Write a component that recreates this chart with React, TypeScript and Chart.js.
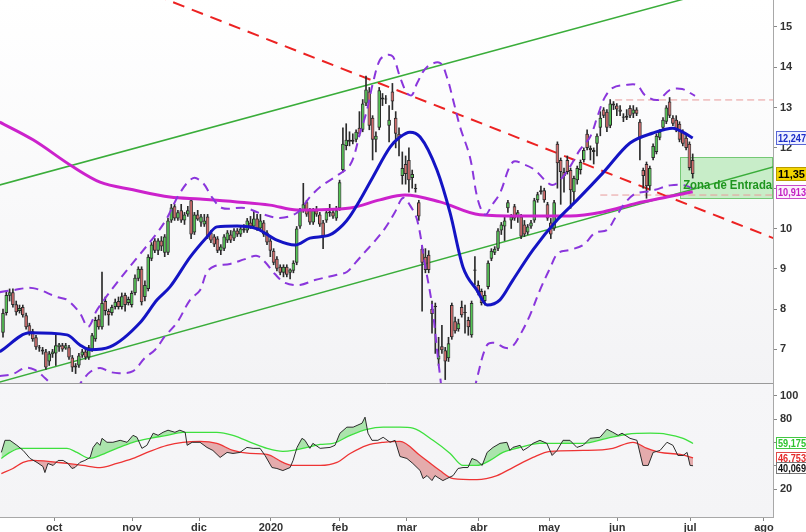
import React, { useEffect, useRef } from "react";
import { Chart, registerables } from "chart.js";
Chart.register(...registerables);

const FONT = "'Liberation Sans', Arial, sans-serif";

// ---- daily candles (trading-day index 0..209) ----
const opens = [7.41,7.9,8.33,8.42,8.12,7.95,8.05,7.85,7.6,7.45,7.3,7.05,7.0,6.95,6.7,6.88,6.9,7.05,7.1,7.02,7.05,6.8,6.6,6.6,6.85,6.95,6.8,7.0,7.25,7.75,7.55,8.2,7.95,7.9,8.05,8.2,8.05,8.35,8.15,8.1,8.4,8.75,9.0,8.3,8.5,9.25,9.7,9.45,9.7,9.4,9.4,10.2,10.55,10.25,10.45,10.2,10.35,10.7,9.9,10.35,10.15,10.1,10.3,9.9,9.8,9.75,9.45,9.5,9.7,9.85,9.75,9.95,9.85,10.0,9.95,10.15,10.05,10.25,10.0,10.15,9.9,9.7,9.45,9.25,9.05,8.9,9.05,8.9,8.95,9.15,10.05,10.45,10.65,10.45,10.15,10.45,10.35,10.15,10.2,10.38,10.4,10.25,10.5,11.45,12.05,12.2,12.15,12.2,12.5,12.45,13.1,13.4,12.75,12.2,12.5,13.2,13.22,12.55,13.4,12.75,12.35,11.3,11.6,11.7,11.25,10.98,10.65,9.5,9.3,9.35,8.0,8.08,6.75,7.08,6.98,6.78,8.1,7.7,7.5,8.05,7.9,7.73,7.35,8.95,8.6,8.45,8.2,8.55,9.25,9.4,9.5,9.95,10.05,10.5,10.2,10.55,10.3,10.3,10.1,9.9,10.05,10.2,10.7,10.9,10.95,10.6,10.15,10.0,12.1,11.7,11.4,11.7,11.45,10.9,11.2,11.45,11.7,12.35,12.0,11.95,12.1,12.5,12.95,12.9,12.55,13.1,13.05,12.95,12.78,12.75,12.99,12.85,12.95,12.65,11.45,11.6,11.05,11.75,11.9,12.25,12.5,12.65,13.15,12.75,12.7,12.6,12.4,12.25,12.1,11.7];
const highs = [8.0,8.45,8.5,8.5,8.2,8.1,8.1,7.9,7.65,7.5,7.35,7.1,7.05,7.0,6.95,7.0,7.35,7.15,7.15,7.15,7.1,6.85,6.65,6.9,7.0,7.0,7.1,7.4,7.8,7.85,8.92,8.3,8.0,8.1,8.25,8.3,8.4,8.4,8.3,8.45,8.85,9.05,9.05,8.7,9.35,9.65,9.75,9.75,9.8,9.85,10.25,10.6,10.6,10.45,10.6,10.4,10.55,10.75,10.4,10.45,10.35,10.35,10.35,9.95,9.85,9.8,9.6,9.85,9.95,9.95,10.0,10.0,10.05,10.1,10.25,10.3,10.45,10.35,10.35,10.2,9.95,9.75,9.5,9.3,9.1,9.1,9.1,9.0,9.2,10.05,10.5,11.12,10.7,10.5,10.5,10.55,10.4,10.2,10.45,10.6,10.5,10.55,11.2,12.5,12.6,12.4,12.35,12.45,12.9,13.2,13.78,13.5,12.8,12.4,13.5,13.35,13.3,13.05,13.6,12.9,12.5,11.9,11.8,12.0,11.45,11.1,10.7,9.55,9.5,9.45,8.2,8.15,7.3,7.6,7.05,7.3,8.15,7.8,7.75,8.2,8.1,7.8,8.2,9.3,8.7,8.5,8.45,9.2,9.5,9.55,10.0,10.15,10.3,10.7,10.35,10.6,10.45,10.35,10.2,10.1,10.2,10.75,10.9,11.05,11.0,10.65,10.25,10.7,12.15,11.75,11.5,11.8,11.5,11.3,11.55,11.7,12.0,12.45,12.05,12.0,12.35,12.9,13.0,12.95,13.2,13.15,13.1,13.05,12.85,12.95,13.05,13.05,13.0,12.7,11.5,11.65,11.55,12.1,12.35,12.45,12.75,13.05,13.25,12.8,12.8,12.65,12.45,12.35,12.15,11.85];
const lows = [7.3,7.85,8.2,8.05,7.85,7.9,7.8,7.5,7.35,7.2,7.0,6.95,6.88,6.5,6.6,6.8,6.6,6.95,6.95,7.0,6.75,6.45,6.4,6.55,6.8,6.75,6.75,6.95,7.2,7.5,7.5,7.85,7.6,7.85,8.0,8.0,8.0,7.95,8.1,8.05,8.35,8.7,8.1,8.2,8.45,9.2,9.4,9.35,9.45,9.3,9.35,10.15,10.2,10.2,10.15,10.1,10.3,9.75,9.85,10.2,10.05,10.05,9.75,9.65,9.55,9.4,9.35,9.45,9.65,9.65,9.7,9.8,9.8,9.9,9.9,10.0,10.0,9.95,9.95,9.8,9.6,9.3,9.1,8.95,8.85,8.8,8.8,8.75,8.9,9.1,10.0,10.4,10.3,10.1,10.1,10.3,10.05,9.5,10.15,10.3,10.25,10.2,10.45,11.4,11.95,12.05,12.1,12.15,12.3,12.4,13.05,12.45,11.7,11.9,12.45,13.05,13.1,12.15,12.95,12.0,11.8,11.1,11.1,10.9,11.0,10.9,10.2,7.95,8.9,8.9,7.4,6.9,6.6,6.9,6.25,6.7,7.25,7.4,7.45,7.8,7.4,7.35,7.3,8.6,8.35,8.1,8.1,8.5,9.2,9.35,9.45,9.85,9.7,10.4,10.0,10.2,10.15,9.75,9.8,9.85,10.0,10.15,10.65,10.85,10.65,10.2,9.75,9.95,11.0,10.6,10.9,11.35,10.5,10.65,11.1,11.35,11.65,11.95,11.7,11.6,11.8,12.3,12.75,12.4,12.5,12.95,12.8,12.8,12.65,12.7,12.75,12.75,12.8,11.7,11.0,10.75,10.95,11.7,11.85,12.2,12.45,12.6,12.75,12.55,12.4,12.15,12.05,11.95,11.45,11.25];
const closes = [7.9,8.35,8.42,8.1,7.92,8.03,7.85,7.55,7.4,7.25,7.05,7.02,6.95,6.55,6.9,6.95,7.1,7.12,7.0,7.1,6.8,6.55,6.55,6.85,6.95,6.8,7.05,7.35,7.73,7.55,8.15,7.95,7.85,8.05,8.18,8.05,8.32,8.1,8.25,8.4,8.78,9.0,8.17,8.6,9.3,9.6,9.45,9.7,9.55,9.8,10.2,10.52,10.25,10.4,10.2,10.35,10.45,9.85,10.35,10.22,10.3,10.2,9.8,9.7,9.6,9.45,9.55,9.8,9.9,9.7,9.95,9.85,10.0,9.95,10.2,10.05,10.25,10.0,10.2,9.85,9.65,9.45,9.15,9.0,8.9,9.05,8.85,8.98,9.15,10.0,10.45,10.6,10.35,10.15,10.45,10.35,10.1,9.8,10.4,10.42,10.3,10.45,11.15,12.1,12.2,12.15,12.2,12.4,12.35,13.1,13.45,12.55,12.2,12.3,13.43,13.25,13.2,12.7,13.15,12.35,12.25,11.5,11.35,11.2,11.35,11.0,10.3,9.15,8.97,8.97,7.88,8.05,6.85,6.98,6.7,7.15,7.3,7.45,7.65,7.85,7.92,7.55,8.15,8.98,8.4,8.15,8.35,9.15,9.45,9.5,9.95,10.1,10.2,10.65,10.3,10.25,10.4,9.8,9.85,10.05,10.15,10.7,10.85,10.95,10.7,10.25,9.85,10.65,11.62,11.4,11.3,11.4,10.95,11.25,11.5,11.65,11.95,12.0,11.95,11.9,12.3,12.75,12.8,12.5,13.1,13.05,12.95,12.9,12.75,12.8,12.8,12.95,12.85,12.25,11.3,11.05,11.5,12.05,12.3,12.4,12.7,13.0,12.8,12.6,12.45,12.2,12.1,12.0,11.5,11.35];

// ---- overlays, [dayIndex, price] ----
const ma20 = [[-1,6.94],[8.2,7.41],[19.4,7.36],[23.3,7.11],[26.4,6.99],[32.4,7.06],[41.5,7.66],[46.7,8.23],[50.6,8.55],[56.7,9.29],[61.8,9.79],[64.8,10.04],[70.9,10.06],[77,9.99],[83,9.71],[88.5,9.59],[93,9.76],[99,9.84],[103,10.09],[105,10.29],[108.2,10.71],[112.1,11.28],[117.3,12.02],[120.3,12.27],[123.3,12.39],[126.4,12.27],[131.5,11.45],[135.5,10.38],[139.4,9.04],[143.6,8.47],[146.7,8.1],[150.6,8.23],[154.5,8.72],[160.6,9.47],[167.9,10.21],[174,10.71],[181.8,11.38],[190,12.12],[197,12.37],[203,12.49],[206,12.39],[209,12.247]];
const ma200 = [[-1,12.64],[9.1,12.2],[21.2,11.53],[29.4,11.15],[39.4,10.96],[50.6,10.78],[59.7,10.73],[70.9,10.66],[80.9,10.58],[89.1,10.46],[105.2,10.51],[114.2,10.71],[121.8,10.83],[132.4,10.66],[144.5,10.34],[156.7,10.31],[171.8,10.31],[181.8,10.41],[192.1,10.63],[201.2,10.78],[209,10.913]];
const bandUpper = [[-1,8.42],[3,8.47],[9.1,8.52],[16.4,8.3],[19.4,8.23],[23.3,7.9],[25.8,7.56],[28.5,7.98],[34.5,8.65],[40.6,9.27],[46.7,9.89],[49.7,10.26],[53.6,10.88],[57.6,11.25],[60.6,11.13],[63.3,10.78],[66.4,10.51],[73.3,10.51],[78.5,10.36],[83.9,10.26],[89.1,10.39],[93,10.78],[96.1,11.03],[100.6,11.28],[105.2,11.58],[108.2,12.37],[110.3,12.94],[112.1,13.61],[114.2,14.18],[116.4,14.31],[118.2,14.26],[120.3,13.76],[122.4,13.36],[123.9,13.31],[125.5,13.61],[128.5,14.01],[132.4,14.11],[134.5,13.76],[136.4,13.19],[138.5,12.52],[141.5,11.77],[143.9,10.71],[146.1,10.34],[148.2,10.58],[150.6,10.88],[154.5,11.65],[158.2,11.58],[161.2,11.45],[164.2,11.2],[166.4,11.08],[168.8,11.2],[171.8,11.53],[174.8,11.95],[177.9,12.27],[180.3,12.82],[182.4,13.26],[184.8,13.49],[188.5,13.56],[192.1,13.56],[194.5,13.31],[198.5,13.19],[202.1,13.44],[205.8,13.46],[209.7,13.29]];
const bandLower = [[-1,6.34],[3,6.39],[6.7,6.54],[9.7,6.49],[12.7,6.29],[15.8,6.04],[18.8,5.87],[21.8,5.99],[24.2,6.24],[26.4,6.44],[29.4,6.54],[32.4,6.44],[35.5,6.41],[39.4,6.46],[43,6.79],[46.1,6.99],[49.1,7.33],[52.7,7.66],[56.7,8.23],[59.7,8.47],[61.8,8.92],[64.2,9.07],[68.8,9.12],[73.3,9.24],[77,9.32],[79.4,9.17],[82.4,8.87],[85.5,8.65],[90,8.6],[94.5,8.72],[101.2,8.85],[104.2,8.92],[106.7,9.14],[109.7,9.42],[112.7,9.69],[115.8,10.01],[118.8,10.41],[121.2,10.76],[123.3,10.58],[125.5,10.21],[127.9,9.09],[130,8.1],[132.4,6.37],[134.5,5.25],[138.5,4.75],[141.5,5.5],[143.9,6.37],[146.7,7.11],[149.1,7.16],[152.1,7.04],[154.2,7.06],[156.7,7.36],[159.7,7.85],[162.7,8.47],[165.8,9.02],[168.2,9.39],[171.8,9.47],[175.8,9.59],[179.4,9.89],[183,9.96],[185.5,10.26],[188.5,10.63],[191.5,10.86],[194.5,10.91],[197.6,10.96],[202.1,11.07],[206.7,11.07],[209.7,10.96]];
const trendRed = [[29,16.34],[240,9.55]];
const trendGreenUpper = [[-1,11.08],[234,16.31]];
const trendGreenLower = [[-1,6.19],[234,11.54]];
const levelResistance = [[185.5,13.19],[234,13.19]];
const levelSupport = [[181,10.83],[234,10.83]];
const zoneDays = [205.2, 234];
const zonePrices = [10.76, 11.77];
const zoneLabel = "Zona de Entrada";

// ---- oscillator panel, [dayIndex, value] ----
const oscMain = [[-0.5,51.5],[0.6,61.9],[2.1,61.9],[4.2,57.6],[6.1,53.2],[8.2,46.3],[10.3,42.9],[12.1,39.4],[12.7,34.2],[13.6,42.0],[15.2,40.3],[16.7,44.6],[18.2,44.6],[19.7,42.0],[20.9,37.7],[21.8,38.5],[23.3,42.9],[24.8,44.6],[26.4,47.2],[27.3,55.8],[28.5,60.2],[29.4,57.6],[30.0,63.6],[31.5,60.2],[33.3,60.2],[35.5,61.9],[37.6,60.2],[39.4,66.2],[40.6,64.5],[42.1,55.0],[43.6,57.6],[45.5,68.0],[47.0,66.2],[48.5,68.8],[50.0,70.6],[52.1,68.8],[53.6,70.6],[55.2,68.8],[55.8,57.6],[57.3,60.2],[59.7,60.2],[61.8,55.8],[63.6,53.2],[65.8,47.2],[67.9,51.5],[69.7,50.6],[71.8,51.5],[73.9,55.8],[75.8,55.0],[77.9,55.0],[79.4,48.9],[81.5,38.5],[83.0,37.7],[84.8,35.9],[87.0,38.5],[87.9,44.6],[89.1,55.8],[90.6,63.6],[91.5,61.9],[93.0,55.0],[93.9,59.3],[96.1,55.0],[99.1,55.8],[100.6,57.6],[102.1,68.0],[104.2,73.2],[106.1,73.2],[108.8,76.6],[109.7,81.8],[110.6,68.0],[111.8,61.9],[113.6,61.9],[115.2,64.5],[117.3,60.2],[118.8,61.9],[120.3,48.0],[122.4,46.3],[124.2,42.0],[126.4,35.9],[127.3,29.0],[128.5,31.6],[130.0,27.3],[130.9,31.6],[131.8,29.9],[133.3,27.3],[134.5,29.0],[136.4,31.6],[137.9,37.7],[139.4,38.5],[140.9,38.5],[142.1,46.3],[143.6,44.6],[145.2,40.3],[146.7,51.5],[148.5,55.8],[150.6,59.3],[152.7,60.2],[153.6,53.2],[154.5,55.8],[156.7,57.6],[157.6,53.2],[159.1,55.8],[160.6,59.3],[162.7,61.9],[164.8,59.3],[166.4,48.9],[167.9,53.2],[169.7,61.9],[171.8,61.9],[173.9,55.8],[175.8,57.6],[177.9,63.6],[180.9,64.5],[183.0,71.4],[184.8,68.8],[186.4,66.2],[187.6,68.0],[190.0,63.6],[192.1,61.9],[193.9,40.3],[195.5,40.3],[197.0,51.5],[199.1,53.2],[201.2,60.2],[203.0,57.6],[204.5,48.9],[206.1,48.9],[207.3,51.5],[208.2,40.3],[209.1,40.069]];
const oscUpper = [[-0.5,46.3],[2.1,51.5],[5.2,55.0],[19.4,55.0],[22.4,51.5],[26.4,46.3],[29.4,48.9],[34.5,55.0],[39.4,60.2],[44.5,63.6],[49.7,66.2],[54.5,68.8],[64.8,68.8],[69.7,66.2],[75.8,59.3],[80.0,55.0],[84.8,52.4],[87.9,53.2],[92.1,55.8],[96.1,58.4],[100.0,59.3],[105.2,66.2],[110.3,71.4],[115.2,73.2],[120.3,73.2],[124.2,72.3],[130.3,61.9],[135.5,50.6],[139.4,40.3],[143.6,40.3],[147.6,44.6],[151.5,51.5],[156.7,55.8],[162.7,59.3],[175.8,59.3],[183.0,63.6],[189.1,67.1],[196.1,68.0],[201.2,67.1],[206.1,63.6],[209.1,59.175]];
const oscLower = [[-0.5,33.3],[3.0,37.7],[6.1,42.9],[9.1,44.6],[19.4,42.0],[24.2,40.3],[29.4,38.5],[34.5,42.0],[39.4,46.3],[44.5,52.4],[49.7,57.6],[54.5,60.2],[59.7,61.0],[64.8,59.3],[69.7,53.2],[74.8,50.6],[80.0,49.8],[84.8,42.9],[87.9,40.3],[96.1,40.3],[101.2,42.9],[105.2,50.6],[110.3,57.6],[115.2,60.2],[120.3,61.0],[126.4,48.9],[132.4,35.9],[136.4,29.0],[143.6,28.1],[149.7,31.6],[154.5,38.5],[160.6,47.2],[165.8,52.4],[175.8,53.2],[184.8,55.0],[189.1,59.3],[190.9,60.2],[195.2,55.0],[199.1,51.5],[205.2,49.8],[209.1,46.753]];

// ---- axes ----
const monthLabels = ["oct", "nov", "dic", "2020", "feb", "mar", "abr", "may", "jun", "jul", "ago"];
const monthDays = [15.5, 39.1, 59.4, 81.2, 102.1, 122.4, 144.2, 165.5, 186.1, 208.2, 230.6];
const priceTicks = [7, 8, 9, 10, 11, 12, 13, 14, 15];
const oscTicks = [20, 40, 60, 80, 100];
const priceTagValues = [12.247, 11.35, 10.913];
const oscTagValues = [59.175, 46.753, 40.069];
const dayRange = [-0.91, 233.33];
const priceRange = [6.141, 15.67];
const oscRange = [-4.0, 110.3];

const pts = (a: number[][]) => a.map(([x, y]) => ({ x, y }));
const fmt = (v: number) => String(v).replace(".", ",");

type TagStyle = { fg: string; bg: string; border: string };
const priceTagStyles: TagStyle[] = [
  { fg: "#1b2bc8", bg: "#eef0ff", border: "#5866d6" },
  { fg: "#000000", bg: "#f3d400", border: "#b89c00" },
  { fg: "#c21ec2", bg: "#fcf0fc", border: "#c84ac8" },
];
const oscTagStyles: TagStyle[] = [
  { fg: "#2ec42e", bg: "#ffffff", border: "#44c844" },
  { fg: "#e52b2b", bg: "#ffffff", border: "#e04a4a" },
  { fg: "#111111", bg: "#ffffff", border: "#777777" },
];

function bgPlugin(top: string, bottom: string) {
  return {
    id: "bgfill",
    beforeDraw(chart: any) {
      const { ctx, chartArea: a, width, height } = chart;
      ctx.save();
      ctx.fillStyle = "#ffffff";
      ctx.fillRect(0, 0, width, height);
      const g = ctx.createLinearGradient(0, a.top, 0, a.bottom);
      g.addColorStop(0, top);
      g.addColorStop(1, bottom);
      ctx.fillStyle = g;
      ctx.fillRect(a.left, a.top, a.right - a.left, a.bottom - a.top);
      ctx.restore();
    },
  };
}

function tagPlugin(values: number[], styles: TagStyle[], axisId: string, separator: boolean, h: number) {
  return {
    id: "tags",
    afterDraw(chart: any) {
      const { ctx, chartArea: a } = chart;
      const s = chart.scales[axisId];
      ctx.save();
      if (separator) {
        ctx.strokeStyle = "#9a9a9a";
        ctx.lineWidth = 1;
        ctx.beginPath();
        ctx.moveTo(a.left, a.bottom - 0.5);
        ctx.lineTo(a.right, a.bottom - 0.5);
        ctx.stroke();
      }
      ctx.font = `bold 11px ${FONT}`;
      ctx.textBaseline = "middle";
      ctx.textAlign = "left";
      const items = values
        .map((v, i) => ({ v, st: styles[i], y: Math.round(s.getPixelForValue(v)) }))
        .sort((p, q) => p.y - q.y);
      for (let i = 1; i < items.length; i++) {
        if (items[i].y - items[i - 1].y < h - 2) items[i].y = items[i - 1].y + h - 2;
      }
      items.forEach(({ v, st, y: yy }) => {
        const text = fmt(v);
        const w = Math.min(31, Math.ceil(ctx.measureText(text).width) + 5);
        const x0 = a.right + 3;
        const top = yy - Math.floor(h / 2);
        ctx.fillStyle = st.bg;
        ctx.fillRect(x0, top, w, h);
        ctx.strokeStyle = st.border;
        ctx.lineWidth = 1;
        ctx.strokeRect(x0 + 0.5, top + 0.5, w - 1, h - 1);
        ctx.fillStyle = st.fg;
        ctx.fillText(text, x0 + 2, yy + 0.5, w - 3);
      });
      ctx.restore();
    },
  };
}

const zonePlugin = {
  id: "zone",
  beforeDatasetsDraw(chart: any) {
    const { ctx, scales, chartArea: a } = chart;
    const x0 = Math.round(scales.x.getPixelForValue(zoneDays[0]));
    const x1 = Math.min(a.right, scales.x.getPixelForValue(zoneDays[1]));
    const yTop = Math.round(scales.y.getPixelForValue(zonePrices[1]));
    const yBot = Math.round(scales.y.getPixelForValue(zonePrices[0]));
    ctx.save();
    ctx.fillStyle = "rgba(140,222,140,0.45)";
    ctx.fillRect(x0, yTop, x1 - x0, yBot - yTop);
    ctx.strokeStyle = "#74c874";
    ctx.lineWidth = 1;
    ctx.strokeRect(x0 + 0.5, yTop + 0.5, x1 - x0 - 1, yBot - yTop);
    ctx.restore();
  },
  afterDatasetsDraw(chart: any) {
    const { ctx, scales } = chart;
    const x0 = scales.x.getPixelForValue(zoneDays[0]);
    const yBot = scales.y.getPixelForValue(zonePrices[0]);
    ctx.save();
    ctx.font = `bold 13px ${FONT}`;
    ctx.fillStyle = "#1f951f";
    ctx.textBaseline = "alphabetic";
    ctx.fillText(zoneLabel, x0 + 3, yBot - 9, 89);
    ctx.restore();
  },
};

const noPad = (s: any) => {
  s.paddingTop = 0;
  s.paddingBottom = 0;
  s.paddingLeft = 0;
  s.paddingRight = 0;
};

const rightAxis = (min: number, max: number, ticks: number[], hidden: number[]) => ({
  type: "linear",
  position: "right",
  min,
  max,
  afterFit: (s: any) => {
    s.width = 33;
    noPad(s);
  },
  afterBuildTicks: (s: any) => {
    s.ticks = ticks.map((v) => ({ value: v }));
  },
  ticks: {
    callback: (v: number) => (hidden.includes(v) ? "" : String(v)),
    font: { size: 11, weight: "bold", family: FONT },
    color: "#333",
    padding: 3,
  },
  grid: { drawOnChartArea: false, drawTicks: true, tickLength: 4, color: "#888" },
  border: { display: true, color: "#a8a8a8" },
});

const line = (data: number[][], color: string, width: number, extra: any = {}) => ({
  type: "line",
  data: pts(data),
  borderColor: color,
  borderWidth: width,
  pointRadius: 0,
  fill: false,
  ...extra,
});

export default function App() {
  const topRef = useRef<HTMLCanvasElement>(null);
  const botRef = useRef<HTMLCanvasElement>(null);

  useEffect(() => {
    document.body.style.margin = "0";
    const wicks = lows.map((l, i) => ({ x: i, y: [l, highs[i]] }));
    const bodies = opens.map((o, i) => ({ x: i, y: [o, closes[i]] }));
    const bodyColors = opens.map((o, i) => (closes[i] >= o ? "#52c452" : "#cf6a6a"));

    const top = new Chart(topRef.current as HTMLCanvasElement, {
      type: "line",
      data: {
        datasets: [
          line(trendGreenUpper, "#3aad3a", 1.5, { order: 20 }),
          line(trendGreenLower, "#3aad3a", 1.5, { order: 20 }),
          line(levelResistance, "#e89a9a", 1, { borderDash: [7, 4], order: 19 }),
          line(levelSupport, "#e89a9a", 1, { borderDash: [7, 4], order: 19 }),
          line(trendRed, "#ec2222", 2, { borderDash: [12, 8], order: 18 }),
          {
            type: "bar",
            data: wicks,
            backgroundColor: "#2b2b2b",
            grouped: false,
            categoryPercentage: 1,
            barPercentage: 1,
            maxBarThickness: 1,
            order: 12,
          },
          {
            type: "bar",
            data: bodies,
            backgroundColor: bodyColors,
            borderColor: "#2a2a2a",
            borderWidth: 1,
            borderSkipped: false,
            grouped: false,
            categoryPercentage: 1,
            barPercentage: 1.1,
            minBarLength: 1,
            order: 11,
          },
          line(ma200, "#cc22cc", 3, { cubicInterpolationMode: "monotone", order: 4 }),
          line(bandUpper, "#8a36dc", 2, { borderDash: [9, 6], tension: 0.35, order: 3 }),
          line(bandLower, "#8a36dc", 2, { borderDash: [9, 6], tension: 0.35, order: 3 }),
          line(ma20, "#1414c4", 3, { cubicInterpolationMode: "monotone", order: 1 }),
        ] as any,
      },
      options: {
        responsive: false,
        animation: false,
        events: [],
        layout: { padding: 0 },
        plugins: { legend: { display: false }, tooltip: { enabled: false } },
        scales: {
          x: { type: "linear", min: dayRange[0], max: dayRange[1], display: false, offset: false, afterFit: noPad } as any,
          y: rightAxis(priceRange[0], priceRange[1], priceTicks, [11]) as any,
        },
      },
      plugins: [bgPlugin("#ffffff", "#f3f3f5"), zonePlugin, tagPlugin(priceTagValues, priceTagStyles, "y", true, 14)],
    });

    const bot = new Chart(botRef.current as HTMLCanvasElement, {
      type: "line",
      data: {
        datasets: [
          line(oscUpper, "#3ee03e", 1.3, { cubicInterpolationMode: "monotone", order: 2 }),
          line(oscLower, "#ee3434", 1.3, { cubicInterpolationMode: "monotone", order: 2 }),
          line(oscMain, "#2b2b2b", 1, {
            fill: { target: 0, above: "rgba(70,205,70,0.42)", below: "rgba(0,0,0,0)" },
            order: 1,
          }),
          line(oscMain, "rgba(0,0,0,0)", 0, {
            fill: { target: 1, above: "rgba(0,0,0,0)", below: "rgba(205,70,70,0.42)" },
            order: 3,
          }),
        ] as any,
      },
      options: {
        responsive: false,
        animation: false,
        events: [],
        layout: { padding: 0 },
        plugins: {
          legend: { display: false },
          tooltip: { enabled: false },
          filler: { drawTime: "beforeDatasetsDraw" },
        } as any,
        scales: {
          x: {
            type: "linear",
            min: dayRange[0],
            max: dayRange[1],
            offset: false,
            afterFit: (s: any) => {
              s.height = 15;
              noPad(s);
            },
            afterBuildTicks: (s: any) => {
              s.ticks = monthDays.map((v) => ({ value: v }));
            },
            ticks: {
              callback: (_v: any, i: number) => monthLabels[i],
              autoSkip: false,
              maxRotation: 0,
              font: { size: 11, weight: "bold", family: FONT },
              color: "#333",
              padding: 0,
            },
            grid: { drawOnChartArea: false, drawTicks: true, tickLength: 4, color: "#888" },
            border: { display: true, color: "#a8a8a8" },
          } as any,
          y: rightAxis(oscRange[0], oscRange[1], oscTicks, [40, 60]) as any,
        },
      },
      plugins: [bgPlugin("#f6f6f8", "#f4f4f6"), tagPlugin(oscTagValues, oscTagStyles, "y", false, 12)],
    });

    return () => {
      top.destroy();
      bot.destroy();
    };
  }, []);

  return (
    <div style={{ width: 806, height: 532, background: "#fff" }}>
      <canvas ref={topRef} width={806} height={384} style={{ display: "block" }} />
      <canvas ref={botRef} width={806} height={148} style={{ display: "block" }} />
    </div>
  );
}
